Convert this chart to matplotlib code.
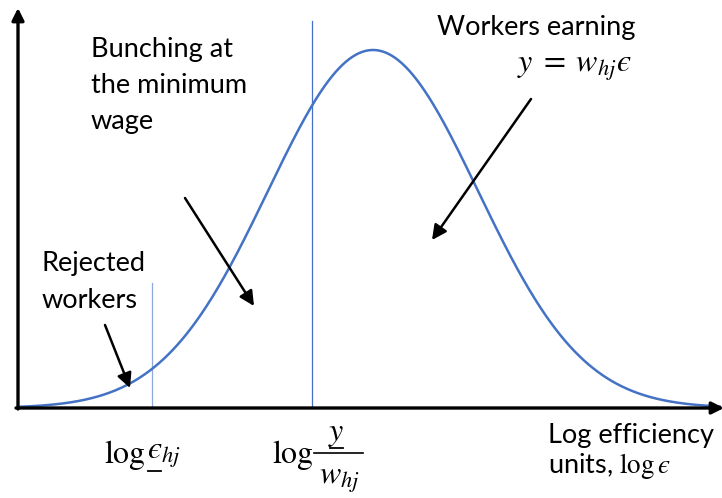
import numpy as np
import matplotlib
matplotlib.use("Agg")
import matplotlib.pyplot as plt

plt.rcParams['font.family'] = ['Lato', 'DejaVu Sans']
plt.rcParams['mathtext.fontset'] = 'stix'

# distribution of log efficiency units (standardised)
mu = 0.0
sigma = 1.0
x_min, x_max = -3.38, 3.30
# thresholds on the log-efficiency axis
threshold_x = [-2.10, -0.58]
threshold_top = [0.35, 1.08]
threshold_colors = ['#8FAADC', '#4472C4']

EPS = 'ϵ'

# pixel -> data helpers for layout
def px(p):
    return (p - 373) / 105.0

def py(p):
    return (408 - p) / 358.0

fig = plt.figure(figsize=(7.22, 4.98), dpi=100)
ax = fig.add_axes([0, 0, 1, 1])
ax.set_xlim(px(0), px(722))
ax.set_ylim(py(498), py(0))
ax.axis('off')

# curve
x = np.linspace(x_min, x_max, 600)
y = np.exp(-0.5 * ((x - mu) / sigma) ** 2)
ax.plot(x, y, color='#4472C4', lw=1.8, zorder=3)

# thresholds
for tx, tt, c in zip(threshold_x, threshold_top, threshold_colors):
    ax.plot([tx, tx], [0, tt], color=c, lw=0.9, zorder=2)

# axes arrows
ax.annotate('', xy=(px(724), 0), xytext=(px(16), 0), annotation_clip=False,
            arrowprops=dict(arrowstyle='-|>', lw=2.4, color='black', mutation_scale=18,
                            shrinkA=0, shrinkB=0), zorder=4)
ax.annotate('', xy=(px(18), py(8)), xytext=(px(18), py(409)), annotation_clip=False,
            arrowprops=dict(arrowstyle='-|>', lw=2.4, color='black', mutation_scale=18,
                            shrinkA=0, shrinkB=0), zorder=4)

# annotation arrows
arrows = [((105, 325), (130, 388)),
          ((185, 198), (254, 306)),
          ((531, 99), (432, 240))]
for (x0, y0), (x1, y1) in arrows:
    ax.annotate('', xy=(px(x1), py(y1)), xytext=(px(x0), py(y0)),
                arrowprops=dict(arrowstyle='-|>', lw=1.8, color='black', mutation_scale=22,
                                shrinkA=0, shrinkB=0), zorder=4)

fs = 19.5
lines = [('Bunching at', 91, 50), ('the minimum', 91, 86), ('wage', 91, 122),
         ('Rejected', 42, 263), ('workers', 42, 300),
         ('Workers earning', 437, 28),
         ('Log efficiency', 548, 435)]
for s, lx, ly in lines:
    ax.text(px(lx), py(ly), s, fontsize=fs, ha='left', va='center')
ax.text(px(548), py(466), 'units, $\\mathrm{log}\\,' + EPS + '$', fontsize=fs, ha='left', va='center')
ax.text(px(517), py(68), '$y\\;=\\;w_{hj}' + EPS + '$', fontsize=23, ha='left', va='center')

# threshold labels
ax.text(px(104), py(455), r'$\log$', fontsize=23, ha='left', va='center')
ax.text(px(147), py(455), '$' + EPS + '_{hj}$', fontsize=23, ha='left', va='center')
ax.text(px(272), py(455), r'$\log$', fontsize=23, ha='left', va='center')
ax.text(px(336), py(434), r'$y$', fontsize=23, ha='center', va='center')
ax.text(px(339), py(480), r'$w_{hj}$', fontsize=23, ha='center', va='center')
ax.plot([px(314), px(363)], [py(453), py(453)], color='black', lw=1.2, zorder=5)

# underlines (minimum markers) beneath epsilon and y
for (ux0, ux1, uy) in [(148, 161, 471), (330, 343, 448)]:
    ax.plot([px(ux0), px(ux1)], [py(uy), py(uy)], color='black', lw=1.3, zorder=5)

fig.savefig('out.png', dpi=100)
